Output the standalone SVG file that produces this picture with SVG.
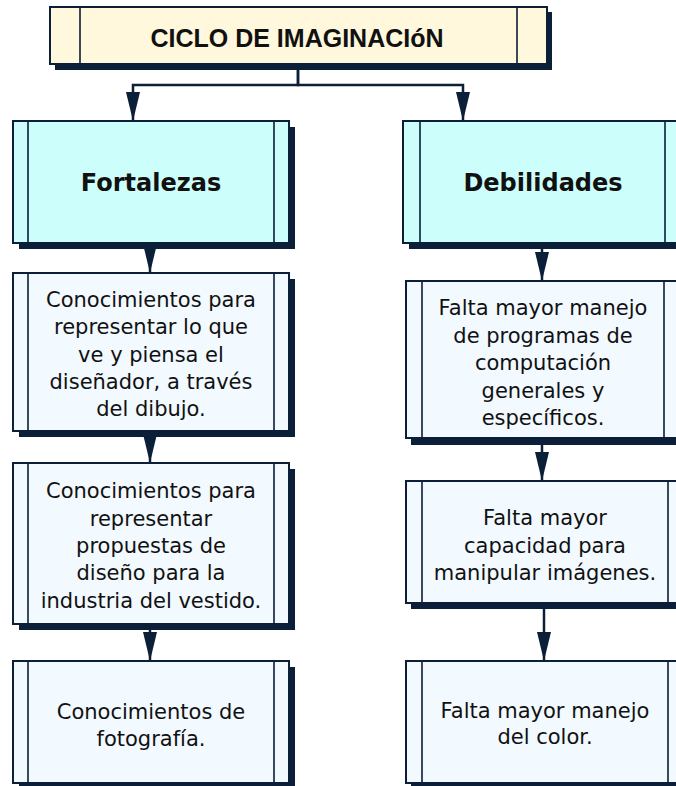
<svg xmlns="http://www.w3.org/2000/svg" width="676" height="786" viewBox="0 0 676 786">
<style>
.frame{stroke:#0b1f38;stroke-width:2}
.inner{stroke:#0b1f38;stroke-width:1.6;fill:none}
.shadow{fill:#0b1f38}
.title{fill:#fff8dc}
.head{fill:#ccfffb}
.body{fill:#f2f9ff}
.tt{font-family:"Liberation Sans",Arial,sans-serif;font-weight:bold;font-size:25px;fill:#111;text-anchor:middle}
.ht{font-family:"DejaVu Sans",Verdana,sans-serif;font-weight:bold;font-size:24px;fill:#111;text-anchor:middle}
.bt{font-family:"DejaVu Sans",Verdana,sans-serif;font-size:21px;fill:#111;text-anchor:middle}
.conn{stroke:#0b1f38;stroke-width:2.5;fill:none;marker-end:url(#arr)}
</style>
<defs>
<marker id="arr" markerUnits="userSpaceOnUse" markerWidth="30" markerHeight="14" refX="29" refY="7" orient="auto">
<path d="M0,0 L29,7 L0,14 z" fill="#0b1f38"/>
</marker>
</defs>
<rect width="676" height="786" fill="#fff"/>
<g id="connectors">
<path class="conn" d="M298,70 V85 H133 V121"/>
<path class="conn" d="M298,70 V85 H463 V121"/>
<path class="conn" d="M150,243 V273"/>
<path class="conn" d="M150,431 V463"/>
<path class="conn" d="M150,624 V661"/>
<path class="conn" d="M542,243 V281"/>
<path class="conn" d="M542,438 V481"/>
<path class="conn" d="M544,603 V661"/>
</g>
<g id="n-title">
<rect class="shadow" x="55" y="12" width="497" height="58"/>
<rect class="frame title" x="50" y="7" width="497" height="57"/>
<path class="inner" d="M80,7 V64 M517,7 V64"/>
<text class="tt" x="297" y="47">CICLO DE IMAGINACIóN</text>
</g>
<g id="n-fortalezas">
<rect class="shadow" x="19" y="127" width="276" height="122"/>
<rect class="frame head" x="13" y="121" width="276" height="122"/>
<path class="inner" d="M28,121 V243 M274,121 V243"/>
<text class="ht" x="151" y="191">Fortalezas</text>
</g>
<g id="n-debilidades">
<rect class="shadow" x="409" y="127" width="278" height="122"/>
<rect class="frame head" x="403" y="121" width="278" height="122"/>
<path class="inner" d="M420,121 V243 M665,121 V243"/>
<text class="ht" x="543" y="191">Debilidades</text>
</g>
<g id="n-f1">
<rect class="shadow" x="19" y="279" width="276" height="158"/>
<rect class="frame body" x="13" y="273" width="276" height="158"/>
<path class="inner" d="M28,273 V431 M274,273 V431"/>
<text class="bt" x="151" y="307">Conocimientos para</text>
<text class="bt" x="151" y="334">representar lo que</text>
<text class="bt" x="151" y="362">ve y piensa el</text>
<text class="bt" x="151" y="389">diseñador, a través</text>
<text class="bt" x="151" y="416">del dibujo.</text>
</g>
<g id="n-f2">
<rect class="shadow" x="19" y="469" width="276" height="161"/>
<rect class="frame body" x="13" y="463" width="276" height="161"/>
<path class="inner" d="M28,463 V624 M274,463 V624"/>
<text class="bt" x="151" y="498">Conocimientos para</text>
<text class="bt" x="151" y="526">representar</text>
<text class="bt" x="151" y="553">propuestas de</text>
<text class="bt" x="151" y="580">diseño para la</text>
<text class="bt" x="151" y="608">industria del vestido.</text>
</g>
<g id="n-f3">
<rect class="shadow" x="19" y="667" width="276" height="122"/>
<rect class="frame body" x="13" y="661" width="276" height="122"/>
<path class="inner" d="M28,661 V783 M274,661 V783"/>
<text class="bt" x="151" y="719">Conocimientos de</text>
<text class="bt" x="151" y="746">fotografía.</text>
</g>
<g id="n-d1">
<rect class="shadow" x="411" y="287" width="276" height="158"/>
<rect class="frame body" x="406" y="281" width="276" height="157"/>
<path class="inner" d="M422,281 V438 M664,281 V438"/>
<text class="bt" x="543" y="315">Falta mayor manejo</text>
<text class="bt" x="543" y="343">de programas de</text>
<text class="bt" x="543" y="370">computación</text>
<text class="bt" x="543" y="398">generales y</text>
<text class="bt" x="543" y="425">específicos.</text>
</g>
<g id="n-d2">
<rect class="shadow" x="411" y="487" width="276" height="122"/>
<rect class="frame body" x="406" y="481" width="278" height="122"/>
<path class="inner" d="M422,481 V603 M668,481 V603"/>
<text class="bt" x="545" y="525">Falta mayor</text>
<text class="bt" x="545" y="553">capacidad para</text>
<text class="bt" x="545" y="580">manipular imágenes.</text>
</g>
<g id="n-d3">
<rect class="shadow" x="411" y="667" width="276" height="122"/>
<rect class="frame body" x="406" y="661" width="278" height="122"/>
<path class="inner" d="M422,661 V783 M668,661 V783"/>
<text class="bt" x="545" y="718">Falta mayor manejo</text>
<text class="bt" x="545" y="744">del color.</text>
</g>
</svg>
